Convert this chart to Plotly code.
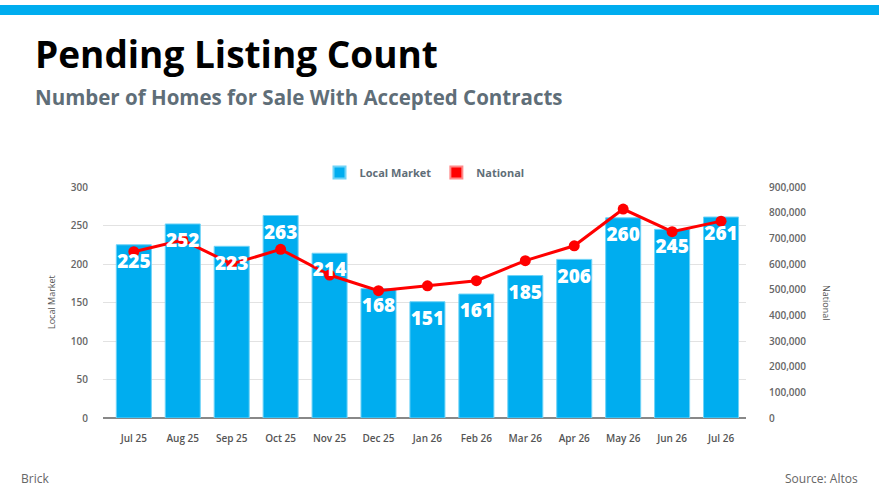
import plotly.graph_objects as go

# months shown on the x axis
months = ["Jul 25", "Aug 25", "Sep 25", "Oct 25", "Nov 25", "Dec 25", "Jan 26",
          "Feb 26", "Mar 26", "Apr 26", "May 26", "Jun 26", "Jul 26"]

# local market pending listings (bars, left axis)
local_market = [225, 252, 223, 263, 214, 168, 151, 161, 185, 206, 260, 245, 261]

# national pending listings (line, right axis)
national = [648000, 693000, 600000, 657000, 557000, 496000, 515000,
            535000, 613000, 671000, 814000, 726000, 767000]

left_ticks = [0, 50, 100, 150, 200, 250, 300]
right_ticks = [0, 100000, 200000, 300000, 400000, 500000, 600000, 700000, 800000, 900000]

BLUE = "#00ADEF"
RED = "#FF0000"
FONT = "Open Sans"

# plot area in pixels (figure is 879 x 493)
L, R, T, B = 103, 746, 187, 418
PW, PH = R - L, B - T
LABEL_DROP = 9  # px the value labels sit below the bar top


def px(x):
    return (x - L) / PW


def py(y):
    return (B - y) / PH


fig = go.Figure()

fig.add_trace(go.Bar(
    x=months, y=local_market, name="Local Market",
    marker=dict(color=BLUE, line=dict(color="#6fd3f7", width=1)),
    hoverinfo="x+y",
))

fig.add_trace(go.Scatter(
    x=months, y=national, name="National", yaxis="y2",
    mode="lines+markers",
    line=dict(color=RED, width=3),
    marker=dict(color=RED, size=11),
    showlegend=False,
))

# legend entry for National drawn as a swatch (like the original)
fig.add_trace(go.Bar(
    x=[months[0]], y=[None], name="National", yaxis="y2",
    marker=dict(color=RED, line=dict(color="#ff8a8a", width=1)),
    showlegend=True, hoverinfo="skip",
))

# bar value labels on their own overlay so they sit above the red line
fig.add_trace(go.Scatter(
    x=months, y=local_market, yaxis="y3", mode="text",
    text=[str(v) for v in local_market], textposition="bottom center",
    textfont=dict(family=FONT, size=19, color="white", weight=800),
    showlegend=False, hoverinfo="skip",
))

shift = LABEL_DROP / PH * 300

fig.update_layout(
    width=879, height=493,
    paper_bgcolor="white", plot_bgcolor="white",
    margin=dict(l=L, r=879 - R, t=T, b=493 - B, autoexpand=False),
    barmode="overlay", bargap=0.284,
    font=dict(family=FONT, color="#555555"),
    showlegend=True,
    legend=dict(orientation="h", x=0.5, xanchor="center", y=1.0, yanchor="bottom",
                font=dict(family=FONT, size=11, color="#5f6e78", weight=700),
                itemsizing="constant", traceorder="normal"),
    xaxis=dict(
        range=[-0.63, 12.51],
        tickfont=dict(family=FONT, size=10, color="#555555", weight=600),
        showgrid=False, showline=False, ticks="", ticklabelstandoff=13,
    ),
    yaxis=dict(
        range=[0, 300], tickvals=left_ticks, showgrid=True, gridcolor="#e2e2e2",
        zeroline=True, zerolinecolor="#888888", zerolinewidth=1.5,
        tickfont=dict(family=FONT, size=10, color="#666666", weight=600),
        ticklabelstandoff=14,
    ),
    yaxis2=dict(
        range=[0, 900000], tickvals=right_ticks, tickformat=",",
        overlaying="y", side="right", showgrid=False, zeroline=False,
        tickfont=dict(family=FONT, size=10, color="#666666", weight=600),
        ticklabelstandoff=22,
    ),
    yaxis3=dict(range=[shift, 300 + shift], overlaying="y", visible=False),
)

# top accent strip
fig.add_shape(type="rect", xref="paper", yref="paper",
              x0=px(0), x1=px(879), y0=py(15), y1=py(5),
              fillcolor=BLUE, line=dict(width=0), layer="above")

fig.add_annotation(text="<b>Pending Listing Count</b>", xref="paper", yref="paper",
                   x=px(33), y=py(53), xanchor="left", yanchor="middle",
                   showarrow=False, font=dict(family=FONT, size=37, color="#000000", weight=800))
fig.add_annotation(text="<b>Number of Homes for Sale With Accepted Contracts</b>", xref="paper", yref="paper",
                   x=px(33), y=py(97), xanchor="left", yanchor="middle",
                   showarrow=False, font=dict(family=FONT, size=20.5, color="#5f6e78", weight=700))

fig.add_annotation(text="Local Market", xref="paper", yref="paper",
                   x=px(43), y=0.5, textangle=-90, showarrow=False,
                   font=dict(family=FONT, size=9, color="#555555"))
fig.add_annotation(text="National", xref="paper", yref="paper",
                   x=px(835), y=0.5, textangle=90, showarrow=False,
                   font=dict(family=FONT, size=9, color="#555555"))

fig.add_annotation(text="Brick", xref="paper", yref="paper",
                   x=px(19), y=py(478), xanchor="left", yanchor="middle",
                   showarrow=False, font=dict(family=FONT, size=12, color="#666666"))
fig.add_annotation(text="Source: Altos", xref="paper", yref="paper",
                   x=px(860), y=py(478), xanchor="right", yanchor="middle",
                   showarrow=False, font=dict(family=FONT, size=12, color="#666666"))

fig.write_html("out.html", config={"displayModeBar": False},
               post_script="document.body.style.margin='0';")
